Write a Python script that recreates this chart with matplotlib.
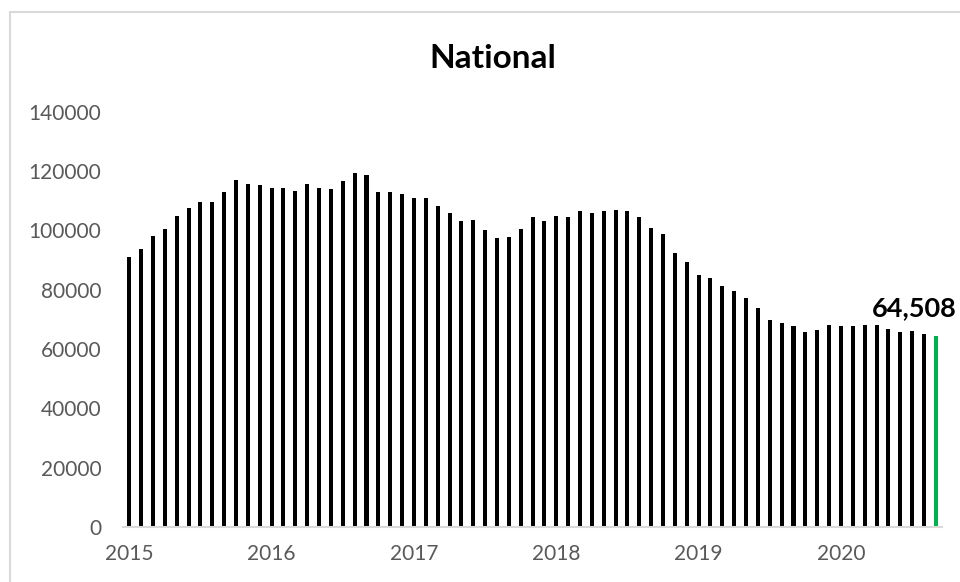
import matplotlib
matplotlib.use("Agg")
from matplotlib import pyplot as plt
from matplotlib.patches import Rectangle

# monthly values, Jan 2015 - Sep 2020
values_2015 = [91000, 93700, 98000, 100600, 104800, 107400, 109600, 109600, 113100, 116900, 115700, 115200]
values_2016 = [114300, 114300, 113400, 115700, 114300, 113900, 116600, 119200, 118700, 113100, 113100, 112100]
values_2017 = [110800, 110800, 108300, 105700, 103000, 103500, 100000, 97500, 97900, 100500, 104400, 103000]
values_2018 = [104800, 104400, 106500, 105700, 106500, 107000, 106500, 104400, 100900, 98800, 92300, 89300]
values_2019 = [85000, 84100, 81100, 79400, 77300, 73800, 69900, 68700, 67800, 65600, 66400, 68200]
values_2020 = [67800, 67800, 68200, 68200, 66900, 65600, 66100, 65200, 64508]

years = ["2015", "2016", "2017", "2018", "2019", "2020"]
y_ticks = [0, 20000, 40000, 60000, 80000, 100000, 120000, 140000]

values = values_2015 + values_2016 + values_2017 + values_2018 + values_2019 + values_2020
x = list(range(len(values)))
colors = ["black"] * (len(values) - 1) + ["#00b050"]

plt.rcParams["font.family"] = ["Lato", "DejaVu Sans"]

fig = plt.figure(figsize=(9.6, 5.82), dpi=100)
ax = fig.add_axes([0.1285, 0.0945, 0.8525, 0.7135])

ax.bar(x, values, width=0.34, color=colors)

ax.set_xlim(-0.5, len(values) - 0.5)
ax.set_ylim(0, 140000)
ax.set_yticks(y_ticks)
ax.set_yticklabels([str(v) for v in y_ticks])
ax.set_xticks([i * 12 for i in range(len(years))])
ax.set_xticklabels(years)
ax.tick_params(axis="both", length=0, labelsize=15, labelcolor="#595959")
ax.tick_params(axis="x", pad=12)
ax.tick_params(axis="y", pad=16)

for s in ["top", "right", "left"]:
    ax.spines[s].set_visible(False)
ax.spines["bottom"].set_color("#d9d9d9")
ax.spines["bottom"].set_linewidth(1.5)

# last value label, pushed left so it stays inside the picture
ax.annotate(f"{values[-1]:,}", (x[-1], values[-1]), xytext=(-46, 14), textcoords="offset points",
            ha="left", va="baseline", fontsize=19.5, fontweight="bold", annotation_clip=False)

fig.text(0.513, 1 - 68 / 582, "National", ha="center", va="baseline", fontsize=24, fontweight="bold")

# chart frame
fig.patches.append(Rectangle((10 / 960, -0.1), 1.2, 1.1 - 12 / 582, transform=fig.transFigure,
                             fill=False, edgecolor="#d9d9d9", linewidth=1.5))

fig.savefig("out.png", dpi=100)
